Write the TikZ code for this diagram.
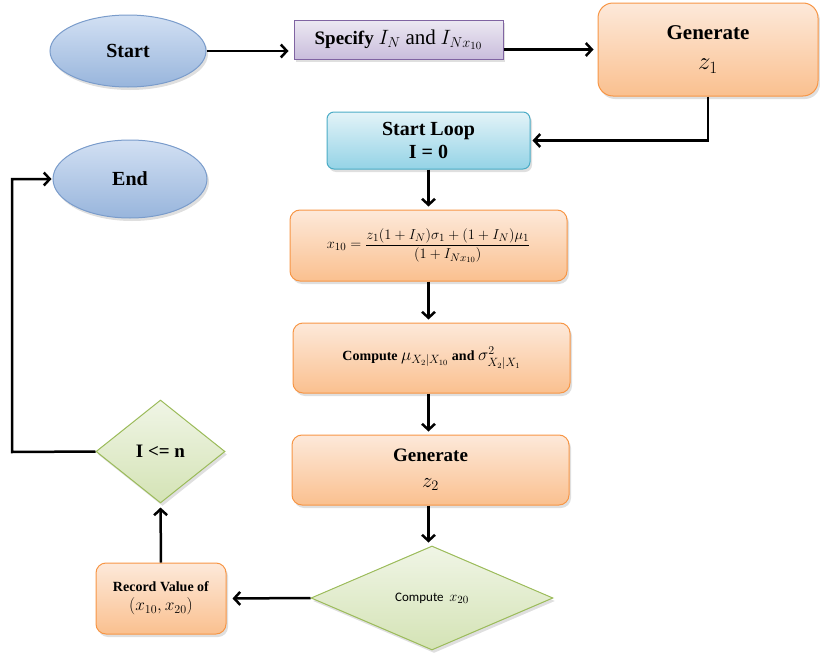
\documentclass[tikz,border=0pt]{standalone}
\usepackage{amsmath}
\usepackage{fontspec}
\setmainfont{Liberation Serif}
\newfontfamily\calfont{Carlito}
\usetikzlibrary{shapes.geometric,arrows.meta,shadows,calc}
\definecolor{orB}{HTML}{F79646}
\definecolor{orT}{HTML}{FDE9DA}
\definecolor{orM}{HTML}{FAC08F}
\definecolor{blB}{HTML}{7A9CCB}
\definecolor{blT}{HTML}{D2E0F3}
\definecolor{blM}{HTML}{98B5DC}
\definecolor{grB}{HTML}{9BBB59}
\definecolor{grT}{HTML}{F0F5E6}
\definecolor{grM}{HTML}{D4E3B5}
\definecolor{puB}{HTML}{8064A2}
\definecolor{puT}{HTML}{ECE8F2}
\definecolor{puM}{HTML}{C9BDDC}
\definecolor{cyB}{HTML}{4BACC6}
\definecolor{cyT}{HTML}{E3F3F8}
\definecolor{cyM}{HTML}{94D3E6}
\newcommand{\fs}[1]{\fontsize{#1}{#1}\selectfont}
\tikzset{
  shd/.style={drop shadow={opacity=0.25,shadow xshift=2pt,shadow yshift=-3pt}},
  orbox/.style={draw=orB,line width=1pt,rounded corners=10pt,top color=orT,bottom color=orM,shd,align=center,inner sep=2pt},
  blell/.style={ellipse,draw=blB,line width=1pt,top color=blT,bottom color=blM,shd,inner sep=0pt,font=\fontsize{20}{24}\selectfont\bfseries},
  grdia/.style={diamond,draw=grB,line width=1pt,top color=grT,bottom color=grM,shd,inner sep=0pt,align=center},
  arr/.style={line width=2.5pt,-{Straight Barb[length=6pt,width=13pt,line width=2.5pt]}}
}
\begin{document}
\begin{tikzpicture}[x=1pt,y=-1pt]
\useasboundingbox (0,0) rectangle (820,653);
\node[blell,minimum width=156pt,minimum height=72pt] (start) at (128,51) {Start};
\node[blell,minimum width=154pt,minimum height=78pt] (end) at (130,179) {End};
\node[draw=puB,line width=1pt,top color=puT,bottom color=puM,shd,minimum width=209pt,minimum height=39pt,inner sep=0pt,font=\fontsize{19}{22}\selectfont] (spec) at (398.5,39.5)
  {\textbf{Specify} {\fs{22}$I_N$} {\fs{21}and} {\fs{22}$I_{Nx_{10}}$}};
\node[orbox,minimum width=220pt,minimum height=93pt,rounded corners=15pt,font=\fontsize{21}{30}\selectfont] (gen1) at (708,49.5)
  {\textbf{Generate}\\ {\fs{25}$z_1$}};
\node[draw=cyB,line width=1pt,rounded corners=7pt,top color=cyT,bottom color=cyM,shd,minimum width=203pt,minimum height=57pt,align=center,inner sep=0pt,font=\fontsize{20}{23}\selectfont\bfseries] (loop) at (428.5,140.5)
  {Start Loop\\ I = 0};
\node[orbox,minimum width=277pt,minimum height=71pt,font=\fontsize{15.5}{18}\selectfont] (x10) at (428.5,245.5)
  {$x_{10}=\dfrac{z_1(1+I_N)\sigma_1+(1+I_N)\mu_1}{\left(1+I_{Nx_{10}}\right)}$};
\node[orbox,minimum width=277pt,minimum height=70pt,font=\fontsize{14}{17}\selectfont] (comp) at (431.5,358)
  {\textbf{Compute} {\fs{17}$\mu_{X_2|X_{10}}$} \textbf{and} {\fs{17}$\sigma^2_{X_2|X_1}$}};
\node[orbox,minimum width=277pt,minimum height=70pt,font=\fontsize{19}{26}\selectfont] (gen2) at (430.5,470)
  {\textbf{Generate}\\ {\fs{22}$z_2$}};
\node[grdia,minimum width=242pt,minimum height=104pt,font=\fontsize{13}{16}\selectfont] (x20) at (432,598)
  {{\calfont Compute} {\fs{15}$\,x_{20}$}};
\node[orbox,minimum width=130pt,minimum height=71pt,font=\fontsize{14}{19}\selectfont] (rec) at (161,598.5)
  {\textbf{Record Value of}\\ {\fs{17}$(x_{10},x_{20})$}};
\node[grdia,minimum width=129pt,minimum height=103pt,font=\fontsize{19}{22}\selectfont\bfseries] (cond) at (160.5,451.5)
  {I <= n};
\coordinate (c1) at (12,452);
\draw[arr,shorten >=5pt] (start.east) -- (start.east -| spec.west);
\draw[arr,shorten >=4pt] (spec.east |- gen1.west) -- (gen1.west);
\draw[arr,shorten >=2pt] (gen1.south) |- (loop.east);
\draw[arr,shorten >=3pt] (loop.south) -- (x10.north);
\draw[arr,shorten >=3pt] (x10.south) -- (x10.south |- comp.north);
\draw[arr,shorten >=3pt] (x10.south |- comp.south) -- (x10.south |- gen2.north);
\draw[arr,shorten >=3pt] (x10.south |- gen2.south) -- (x10.south |- x20.north);
\draw[arr,shorten >=6pt] (x20.west) -- (rec.east);
\draw[arr,shorten >=4pt] (rec.north) -- (cond.south);
\draw[arr,shorten >=1pt] (cond.west) -- (c1) |- (end.west);
\end{tikzpicture}
\end{document}
